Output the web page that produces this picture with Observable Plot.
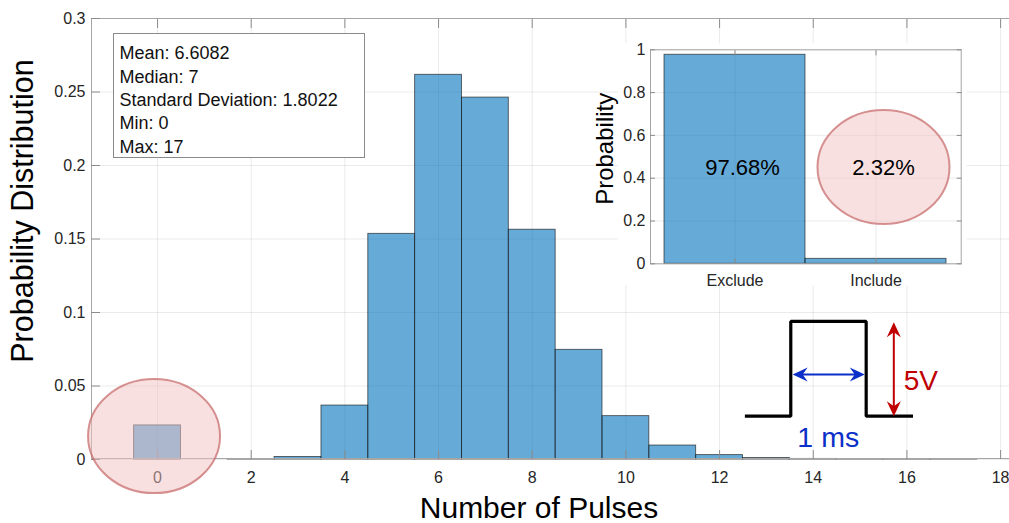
<!DOCTYPE html>
<html><head><meta charset="utf-8">
<script src="https://cdn.jsdelivr.net/npm/d3@7"></script>
<script src="https://cdn.jsdelivr.net/npm/@observablehq/plot@0.6"></script>
<style>
html,body{margin:0;padding:0;background:#fff;}
#wrap{position:relative;width:1009px;height:523px;overflow:hidden;}
#inset{position:absolute;left:590px;top:30px;}
</style></head><body>
<div id="wrap"><div id="main"></div><div id="inset"></div></div>
<script>
// ---------- data ----------
const pulseCounts = [0,1,2,3,4,5,6,7,8,9,10,11,12,13,14,15,16,17];
const probabilities = [0.0232,0,0.0003,0.0017,0.0367,0.1535,0.2617,0.2462,0.1563,0.0746,0.0295,0.0095,0.003,0.001,0.0004,0.0002,0.0001,0.00001];
const xTicks = [0,2,4,6,8,10,12,14,16,18];
const xTickLabels = ["0","2","4","6","8","10","12","14","16","18"];
const yTicks = [0,0.05,0.1,0.15,0.2,0.25,0.3];
const yTickLabels = ["0","0.05","0.1","0.15","0.2","0.25","0.3"];
const xTitle = "Number of Pulses";
const yTitle = "Probability Distribution";
const statLines = ["Mean: 6.6082","Median: 7","Standard Deviation: 1.8022","Min: 0","Max: 17"];

const insetCategories = ["Exclude","Include"];
const insetValues = [0.9768,0.0232];
const insetLabels = ["97.68%","2.32%"];
const insetYTicks = [0,0.2,0.4,0.6,0.8,1];
const insetYTickLabels = ["0","0.2","0.4","0.6","0.8","1"];
const insetYTitle = "Probability";

// annotation anchors (data units of the main chart)
const highlightCenter = [-0.064, 0.0156];
const pulseX = [12.54,13.52,13.52,15.13,15.13,16.13];
const pulseY = [0.0295,0.0295,0.0939,0.0939,0.0295,0.0295];
const widthArrowX = [13.56,15.10];
const widthArrowY = 0.0578;
const heightArrowX = 15.72;
const heightArrowY = [0.0934,0.0295];
const widthLabel = {text:"1 ms", x:14.32, y:0.0147};
const heightLabel = {text:"5V", x:15.93, y:0.0535};

// ---------- helpers ----------
const FONT = "'Liberation Sans', Arial, Helvetica, sans-serif";
const BAR = "#0072BD";
const AXIS = "#a6a6a6";
const RED = "#C00000";
const BLUE = "#0B2FC8";

function head(angle){
  const L=15, W=7, N=10;
  const pts=[[0,0],[-L,-W],[-N,0],[-L,W]];
  const c=Math.cos(angle), s=Math.sin(angle);
  return {draw(ctx){pts.forEach(([px,py],i)=>{const X=px*c-py*s, Y=px*s+py*c; i?ctx.lineTo(X,Y):ctx.moveTo(X,Y);}); ctx.closePath();}};
}
function ellipse(cx, cy, rx, ry){
  return d3.create("svg:ellipse").attr("cx",cx).attr("cy",cy).attr("rx",rx).attr("ry",ry)
    .attr("fill","#F2C1C1").attr("fill-opacity",0.5)
    .attr("stroke","#C86E6E").attr("stroke-opacity",0.75).attr("stroke-width",2).node();
}

// ---------- main chart ----------
const bins = pulseCounts.map((c,i)=>({x1:c-0.5, x2:c+0.5, p:probabilities[i]}));
const pulse = pulseX.map((x,i)=>({x, y:pulseY[i]}));
const fmtX = d => xTickLabels[xTicks.indexOf(d)];
const fmtY = d => yTickLabels[yTicks.indexOf(d)];

const main = Plot.plot({
  width:1009, height:523,
  marginLeft:91, marginRight:0, marginTop:18, marginBottom:64,
  style:{fontFamily:FONT, fontSize:"16px", color:"#262626", background:"transparent", overflow:"visible"},
  x:{domain:[-1.41,18.19], axis:null},
  y:{domain:[0,0.3], axis:null},
  marks:[
    Plot.gridX(xTicks,{stroke:"#262626", strokeOpacity:0.09}),
    Plot.gridY(yTicks,{stroke:"#262626", strokeOpacity:0.09}),
    Plot.rectY(bins,{x1:"x1", x2:"x2", y:"p", fill:BAR, fillOpacity:0.6, stroke:"#1a1a1a", strokeOpacity:0.7, strokeWidth:0.9}),
    (index, scales, values, dims) => {
      const {width, height, marginLeft:l, marginTop:t, marginBottom:b} = dims;
      return d3.create("svg:path")
        .attr("d", `M${width},${t+0.5}H${l+0.5}V${height-b-0.5}H${width}`)
        .attr("fill","none").attr("stroke",AXIS).attr("stroke-width",1).node();
    },
    Plot.axisX({ticks:xTicks, anchor:"bottom", tickSize:-9, tickFormat:()=>"", label:null, stroke:"#8c8c8c"}),
    Plot.axisX({ticks:xTicks, anchor:"top", tickSize:-9, tickFormat:()=>"", label:null, stroke:"#8c8c8c"}),
    Plot.axisY({ticks:yTicks, anchor:"left", tickSize:-9, tickFormat:()=>"", label:null, stroke:"#8c8c8c"}),
    Plot.axisX({ticks:xTicks, anchor:"bottom", tickSize:0, tickPadding:12, tickFormat:fmtX, label:null, fontSize:16, fill:"#262626"}),
    Plot.axisY({ticks:yTicks, anchor:"left", tickSize:0, tickPadding:6, tickFormat:fmtY, label:null, fontSize:16, fill:"#262626"}),
    Plot.text([xTitle],{frameAnchor:"bottom", textAnchor:"middle", lineAnchor:"top", dy:37.5, dx:-11.5, fontSize:30, fill:"#000"}),
    Plot.text([yTitle],{frameAnchor:"left", textAnchor:"middle", rotate:-90, lineAnchor:"top", dx:-80, dy:-28, fontSize:30.5, fill:"#000"}),
    // highlight ellipse over bin 0
    (index, scales) => ellipse(scales.x(highlightCenter[0]), scales.y(highlightCenter[1]), 66, 57),
    // stats box
    (index, scales, values, dims) => d3.create("svg:rect")
        .attr("x", dims.marginLeft+22.5).attr("y", dims.marginTop+15.5).attr("width",251).attr("height",124)
        .attr("fill","#fff").attr("stroke","#8a8a8a").attr("stroke-width",1).node(),
    Plot.text([statLines.join("\n")],{frameAnchor:"top-left", textAnchor:"start", lineAnchor:"top", dx:28, dy:24.2, lineHeight:1.296, fontSize:18, fill:"#111"}),
    // pulse sketch
    Plot.line(pulse,{x:"x", y:"y", stroke:"#000", strokeWidth:3.2, strokeLinejoin:"miter", strokeLinecap:"butt"}),
    Plot.link([0],{x1:()=>widthArrowX[0]+0.2, x2:()=>widthArrowX[1]-0.2, y1:()=>widthArrowY, y2:()=>widthArrowY, stroke:BLUE, strokeWidth:2}),
    Plot.dot([widthArrowX[0]],{x:d=>d, y:()=>widthArrowY, symbol:head(Math.PI), fill:BLUE, stroke:null}),
    Plot.dot([widthArrowX[1]],{x:d=>d, y:()=>widthArrowY, symbol:head(0), fill:BLUE, stroke:null}),
    Plot.link([0],{x1:()=>heightArrowX, x2:()=>heightArrowX, y1:()=>heightArrowY[0]-0.005, y2:()=>heightArrowY[1]+0.005, stroke:RED, strokeWidth:2}),
    Plot.dot([heightArrowY[0]],{x:()=>heightArrowX, y:d=>d, symbol:head(-Math.PI/2), fill:RED, stroke:null}),
    Plot.dot([heightArrowY[1]],{x:()=>heightArrowX, y:d=>d, symbol:head(Math.PI/2), fill:RED, stroke:null}),
    Plot.text([widthLabel],{x:"x", y:"y", text:"text", textAnchor:"middle", lineAnchor:"middle", fontSize:28.5, fill:BLUE}),
    Plot.text([heightLabel],{x:"x", y:"y", text:"text", textAnchor:"start", lineAnchor:"middle", fontSize:28, fill:RED})
  ]
});
document.getElementById("main").appendChild(main);

// ---------- inset chart ----------
const insetData = insetCategories.map((c,i)=>({c, v:insetValues[i], label:insetLabels[i]}));
const fmtIY = d => insetYTickLabels[insetYTicks.indexOf(d)];
const inset = Plot.plot({
  width:379, height:260,
  marginLeft:60, marginRight:8.3, marginTop:19.3, marginBottom:26.7,
  style:{fontFamily:FONT, fontSize:"16px", color:"#262626", background:"transparent", overflow:"visible"},
  x:{type:"band", domain:insetCategories, paddingInner:0, paddingOuter:0.1, axis:null},
  y:{domain:[0,1], axis:null},
  marks:[
    (index, scales, values, dims) => d3.create("svg:rect")
      .attr("x", dims.marginLeft-32).attr("y", dims.marginTop-6)
      .attr("width", dims.width-dims.marginRight-dims.marginLeft+38).attr("height", dims.height-dims.marginBottom-dims.marginTop+28)
      .attr("fill","#fff").node(),
    Plot.axisX({anchor:"bottom", tickSize:-(260-19.3-26.7), tickFormat:()=>"", label:null, stroke:"#262626", strokeOpacity:0.09}),
    Plot.gridY(insetYTicks,{stroke:"#262626", strokeOpacity:0.09}),
    Plot.barY(insetData,{x:"c", y:"v", fill:BAR, fillOpacity:0.6, stroke:"#1a1a1a", strokeOpacity:0.7, strokeWidth:0.9}),
    Plot.frame({stroke:AXIS}),
    Plot.axisX({anchor:"bottom", tickSize:-5, tickFormat:()=>"", label:null, stroke:"#8c8c8c"}),
    Plot.axisX({anchor:"top", tickSize:-5, tickFormat:()=>"", label:null, stroke:"#8c8c8c"}),
    Plot.axisY({ticks:insetYTicks, anchor:"left", tickSize:-5, tickFormat:()=>"", label:null, stroke:"#8c8c8c"}),
    Plot.axisY({ticks:insetYTicks, anchor:"right", tickSize:-5, tickFormat:()=>"", label:null, stroke:"#8c8c8c"}),
    Plot.axisX({anchor:"bottom", tickSize:0, tickPadding:11, label:null, fontSize:16, fill:"#262626"}),
    Plot.axisY({ticks:insetYTicks, anchor:"left", tickSize:0, tickPadding:5, tickFormat:fmtIY, label:null, fontSize:16, fill:"#262626"}),
    Plot.text([insetYTitle],{frameAnchor:"left", textAnchor:"middle", rotate:-90, lineAnchor:"top", dx:-54.8, dy:-8, fontSize:24, fill:"#000"}),
    (index, scales) => ellipse(scales.x(insetCategories[1]) + scales.x.bandwidth()/2 + 8, scales.y(0.45), 66, 57),
    Plot.text(insetData,{x:"c", y:()=>0.45, text:"label", textAnchor:"middle", dx:7.5, fontSize:22, fill:"#000", lineAnchor:"middle"})
  ]
});
document.getElementById("inset").appendChild(inset);
</script>
</body></html>
